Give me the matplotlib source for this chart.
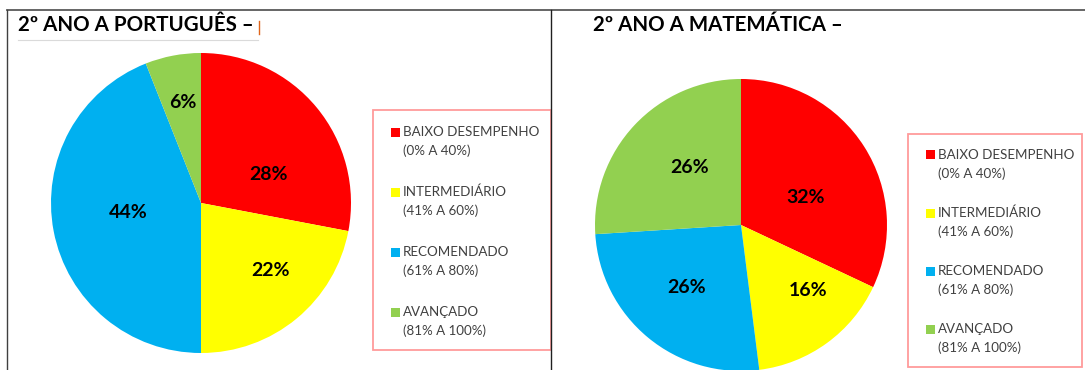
import matplotlib
matplotlib.use("Agg")
import matplotlib.pyplot as plt
from matplotlib.lines import Line2D
from matplotlib.patches import Rectangle

# Data
categories = ["BAIXO DESEMPENHO", "INTERMEDIÁRIO", "RECOMENDADO", "AVANÇADO"]
ranges = ["(0% A 40%)", "(41% A 60%)", "(61% A 80%)", "(81% A 100%)"]
colors = ["#FF0000", "#FFFF00", "#00B0F0", "#92D050"]

portugues_title = "2º ANO A PORTUGUÊS –"
portugues_values = [28, 22, 44, 6]

matematica_title = "2º ANO A MATEMÁTICA –"
matematica_values = [32, 16, 26, 26]

W, H = 1085, 370
fig = plt.figure(figsize=(W / 100, H / 100), dpi=100)
fig.patch.set_facecolor("white")
plt.rcParams["font.family"] = ["Lato", "DejaVu Sans"]


def fx(x):
    return x / W


def fy(y):
    return 1 - y / H


def hline(x0, x1, y, color, lw):
    fig.add_artist(Line2D([fx(x0), fx(x1)], [fy(y), fy(y)], color=color, lw=lw,
                          transform=fig.transFigure))


def vline(x, y0, y1, color, lw):
    fig.add_artist(Line2D([fx(x), fx(x)], [fy(y0), fy(y1)], color=color, lw=lw,
                          transform=fig.transFigure))


# Frame lines around the two panels
hline(7, W, 9.5, "#595959", 1.3)
vline(7, 9.5, H, "#404040", 1.0)
vline(551, 9.5, H, "#202020", 1.0)


def draw_pie(cx, cy, r, values, label_pos):
    ax = fig.add_axes([fx(cx - r), fy(cy + r), 2 * r / W, 2 * r / H])
    wedges, texts, autotexts = ax.pie(
        values, colors=colors, startangle=90, counterclock=False,
        autopct=lambda p: f"{p:.0f}%", pctdistance=0.6,
        wedgeprops=dict(linewidth=0),
        textprops=dict(fontsize=14, fontweight="bold", color="black"),
    )
    for t, pos in zip(autotexts, label_pos):
        t.set_position(pos)
        t.set_ha("center")
        t.set_va("center")
    ax.set_xlim(-1, 1)
    ax.set_ylim(-1, 1)
    ax.set_aspect("auto")
    ax.axis("off")
    return ax


def draw_legend(x0, y0, x1, y1, mx, first_y, step):
    fig.add_artist(Rectangle((fx(x0), fy(y1)), (x1 - x0) / W, (y1 - y0) / H,
                             transform=fig.transFigure, fill=False,
                             edgecolor="#FF9B9B", lw=1.3))
    for i, (name, rng, c) in enumerate(zip(categories, ranges, colors)):
        yc = first_y + i * step
        fig.add_artist(Rectangle((fx(mx), fy(yc + 4.5)), 9 / W, 9 / H,
                                 transform=fig.transFigure, facecolor=c,
                                 edgecolor="none"))
        fig.text(fx(mx + 12), fy(yc), name, fontsize=9.6, color="#404040",
                 ha="left", va="center")
        fig.text(fx(mx + 12), fy(yc + 19), rng, fontsize=9.6, color="#404040",
                 ha="left", va="center")


# Português panel
fig.text(fx(18), fy(25), portugues_title, fontsize=14.8, fontweight="bold",
         color="black", ha="left", va="center")
# text cursor mark after the title
vline(259, 21, 34, "#E0651A", 1.0)
hline(18, 258, 40, "#DADADA", 0.8)
draw_pie(201, 203, 150, portugues_values,
         [(0.447, 0.187), (0.46, -0.447), (-0.487, -0.06), (-0.12, 0.673)])
draw_legend(373, 110, 551, 350, 391, 132, 60)

# Matemática panel
fig.text(fx(593), fy(25), matematica_title, fontsize=14.8, fontweight="bold",
         color="black", ha="left", va="center")
draw_pie(741, 225, 146, matematica_values,
         [(0.445, 0.185), (0.459, -0.452), (-0.37, -0.43), (-0.35, 0.397)])
draw_legend(908, 134, 1082, 367, 926, 155, 58)

fig.savefig("out.png", dpi=100, facecolor="white")
